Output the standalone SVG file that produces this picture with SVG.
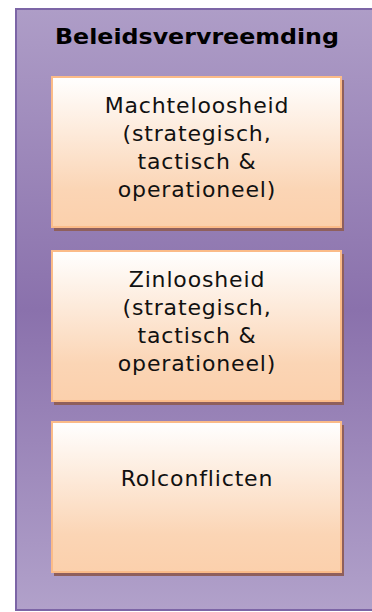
<svg xmlns="http://www.w3.org/2000/svg" width="372" height="612" viewBox="0 0 372 612">
<style>
.box{fill:url(#peach);stroke:#fbbb88;stroke-width:2}
.shadow{fill:#8f5f5c}
.t{font-family:"DejaVu Sans","Verdana",sans-serif;font-size:22px;letter-spacing:0.85px;fill:#111;text-anchor:middle}
.title{font-family:"DejaVu Sans","Verdana",sans-serif;font-size:21px;font-weight:bold;fill:#000;text-anchor:middle}
</style>
<defs>
<linearGradient id="purple" x1="0" y1="0" x2="0" y2="1">
<stop offset="0" stop-color="#ae9dc7"/>
<stop offset="0.5" stop-color="#8a71ac"/>
<stop offset="1" stop-color="#b1a1ca"/>
</linearGradient>
<linearGradient id="peach" x1="0" y1="0" x2="0" y2="1">
<stop offset="0" stop-color="#ffffff"/>
<stop offset="0.75" stop-color="#fbd5b5"/>
<stop offset="1" stop-color="#fbd0ac"/>
</linearGradient>
</defs>
<g id="container">
<rect x="16" y="9" width="370" height="601" fill="url(#purple)" stroke="#7c65a6" stroke-width="2"/>
<text class="title" x="197" y="44" textLength="284" lengthAdjust="spacingAndGlyphs">Beleidsvervreemding</text>
</g>
<g id="node1">
<rect class="shadow" x="54" y="80" width="290" height="151"/>
<rect class="box" x="52" y="77" width="289" height="150"/>
<text class="t" x="197" y="113">Machteloosheid</text>
<text class="t" x="197" y="141">(strategisch,</text>
<text class="t" x="197" y="169">tactisch &amp;</text>
<text class="t" x="197" y="197">operationeel)</text>
</g>
<g id="node2">
<rect class="shadow" x="54" y="254" width="290" height="151"/>
<rect class="box" x="52" y="251" width="289" height="150"/>
<text class="t" x="197" y="287">Zinloosheid</text>
<text class="t" x="197" y="315">(strategisch,</text>
<text class="t" x="197" y="343">tactisch &amp;</text>
<text class="t" x="197" y="371">operationeel)</text>
</g>
<g id="node3">
<rect class="shadow" x="54" y="425" width="290" height="151"/>
<rect class="box" x="52" y="422" width="289" height="150"/>
<text class="t" x="197" y="486">Rolconflicten</text>
</g>
<g id="connectors"/>
</svg>
